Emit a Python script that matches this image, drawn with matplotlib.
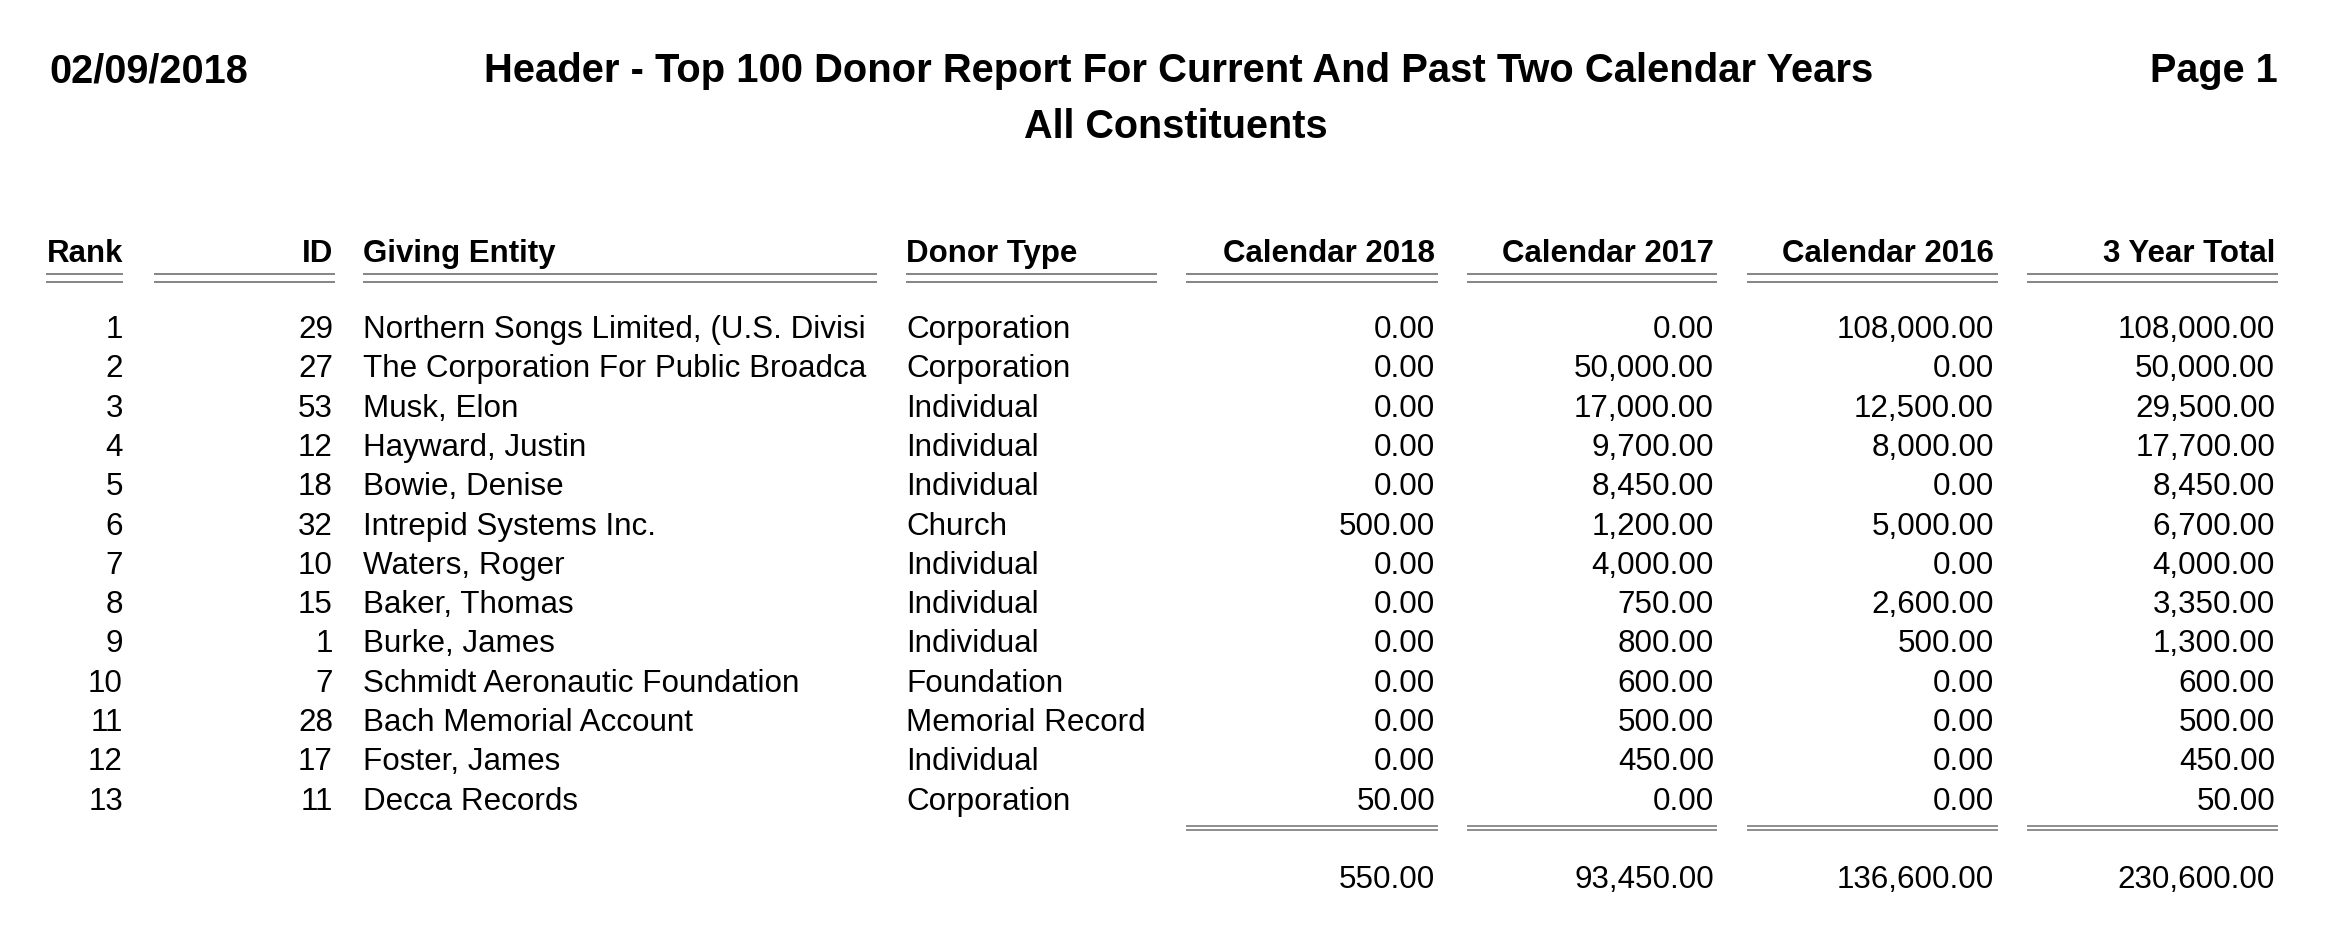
import matplotlib
matplotlib.use("Agg")
import matplotlib.pyplot as plt

# report data
report_date = "02/09/2018"
page_label = "Page 1"
title_lines = ["Header - Top 100 Donor Report For Current And Past Two Calendar Years",
               "All Constituents"]
headers = ["Rank", "ID", "Giving Entity", "Donor Type",
           "Calendar 2018", "Calendar 2017", "Calendar 2016", "3 Year Total"]

ranks = [1, 2, 3, 4, 5, 6, 7, 8, 9, 10, 11, 12, 13]
ids = [29, 27, 53, 12, 18, 32, 10, 15, 1, 7, 28, 17, 11]
entities = ["Northern Songs Limited, (U.S. Divisi", "The Corporation For Public Broadca",
            "Musk, Elon", "Hayward, Justin", "Bowie, Denise", "Intrepid Systems Inc.",
            "Waters, Roger", "Baker, Thomas", "Burke, James", "Schmidt Aeronautic Foundation",
            "Bach Memorial Account", "Foster, James", "Decca Records"]
donor_types = ["Corporation", "Corporation", "Individual", "Individual", "Individual",
               "Church", "Individual", "Individual", "Individual", "Foundation",
               "Memorial Record", "Individual", "Corporation"]
cal_2018 = [0, 0, 0, 0, 0, 500, 0, 0, 0, 0, 0, 0, 50]
cal_2017 = [0, 50000, 17000, 9700, 8450, 1200, 4000, 750, 800, 600, 500, 450, 0]
cal_2016 = [108000, 0, 12500, 8000, 0, 5000, 0, 2600, 500, 0, 0, 0, 0]
total_3yr = [108000, 50000, 29500, 17700, 8450, 6700, 4000, 3350, 1300, 600, 500, 450, 50]

W, H = 2332, 947
FONT = ["Liberation Sans", "Arial", "DejaVu Sans"]

fig = plt.figure(figsize=(W / 100, H / 100), dpi=100)
ax = fig.add_axes([0, 0, 1, 1])
ax.set_xlim(0, W)
ax.set_ylim(H, 0)
ax.axis("off")

# column layout: (anchor x, alignment, underline start, underline end)
cols = [
    (123, "right", 46, 123),
    (333, "right", 154, 335),
    (363, "left", 363, 877),
    (906, "left", 906, 1157),
    (1435, "right", 1186, 1438),
    (1714, "right", 1467, 1717),
    (1994, "right", 1747, 1998),
    (2275, "right", 2027, 2278),
]

line_color = "#858585"

# page header
ax.text(49, 82, report_date, ha="left", va="baseline", fontsize=28.5,
        fontweight="bold", family=FONT)
ax.text(2278, 82, page_label, ha="right", va="baseline", fontsize=28.5,
        fontweight="bold", family=FONT)
ax.text(1179, 82, title_lines[0], ha="center", va="baseline", fontsize=28.85,
        fontweight="bold", family=FONT)
ax.text(1176, 138, title_lines[1], ha="center", va="baseline", fontsize=28.5,
        fontweight="bold", family=FONT)

# column headers and double underline
for (x, ha, x0, x1), h in zip(cols, headers):
    ax.text(x, 262, h, ha=ha, va="baseline", fontsize=22.5, fontweight="bold",
            family=FONT)
    ax.hlines([274, 282], x0, x1, colors=line_color, linewidth=1.4)

# body rows
row0, row_h = 338, 39.3
fmt = lambda v: f"{v:,.2f}"
for i in range(len(ranks)):
    y = row0 + i * row_h
    cells = [str(ranks[i]), str(ids[i]), entities[i], donor_types[i],
             fmt(cal_2018[i]), fmt(cal_2017[i]), fmt(cal_2016[i]), fmt(total_3yr[i])]
    for (x, ha, _, _), c in zip(cols, cells):
        ax.text(x, y, c, ha=ha, va="baseline", fontsize=22.6, family=FONT)

# totals
sums = [sum(cal_2018), sum(cal_2017), sum(cal_2016), sum(total_3yr)]
for (x, ha, x0, x1), s in zip(cols[4:], sums):
    ax.hlines([826, 830.2], x0, x1, colors=line_color, linewidth=1.3)
    ax.text(x, 888, fmt(s), ha=ha, va="baseline", fontsize=22.6, family=FONT)

fig.savefig("out.png", dpi=100, facecolor="white")
